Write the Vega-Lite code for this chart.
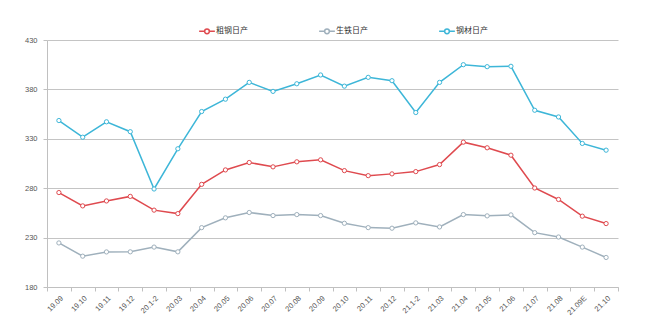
{
  "$schema": "https://vega.github.io/schema/vega-lite/v6.json",
  "autosize": "none",
  "width": 571,
  "height": 247,
  "padding": {"left": 47, "top": 40, "right": 28, "bottom": 43},
  "background": "white",
  "config": {
    "view": {"stroke": null},
    "font": "Noto Sans CJK SC",
    "axis": {"labelFont": "Liberation Sans", "labelColor": "#555555", "labelFontSize": 7.5, "domainColor": "#c0c0c0", "tickColor": "#c0c0c0"}
  },
  "data": {"values": [
    {"m":"19.09","s":"粗钢日产","v":275.6},{"m":"19.10","s":"粗钢日产","v":262.1},{"m":"19.11","s":"粗钢日产","v":267.1},{"m":"19.12","s":"粗钢日产","v":271.7},{"m":"20.1-2","s":"粗钢日产","v":257.8},{"m":"20.03","s":"粗钢日产","v":254.3},{"m":"20.04","s":"粗钢日产","v":283.9},{"m":"20.05","s":"粗钢日产","v":298.5},{"m":"20.06","s":"粗钢日产","v":306},{"m":"20.07","s":"粗钢日产","v":301.6},{"m":"20.08","s":"粗钢日产","v":306.7},{"m":"20.09","s":"粗钢日产","v":308.7},{"m":"20.10","s":"粗钢日产","v":297.8},{"m":"20.11","s":"粗钢日产","v":292.7},{"m":"20.12","s":"粗钢日产","v":294.5},{"m":"21.1-2","s":"粗钢日产","v":296.8},{"m":"21.03","s":"粗钢日产","v":303.9},{"m":"21.04","s":"粗钢日产","v":326.6},{"m":"21.05","s":"粗钢日产","v":320.9},{"m":"21.06","s":"粗钢日产","v":313.4},{"m":"21.07","s":"粗钢日产","v":280.2},{"m":"21.08","s":"粗钢日产","v":268.6},{"m":"21.09E","s":"粗钢日产","v":251.7},{"m":"21.10","s":"粗钢日产","v":244.2},
    {"m":"19.09","s":"生铁日产","v":224.6},{"m":"19.10","s":"生铁日产","v":211.2},{"m":"19.11","s":"生铁日产","v":215.5},{"m":"19.12","s":"生铁日产","v":215.6},{"m":"20.1-2","s":"生铁日产","v":220.4},{"m":"20.03","s":"生铁日产","v":215.6},{"m":"20.04","s":"生铁日产","v":240.1},{"m":"20.05","s":"生铁日产","v":250},{"m":"20.06","s":"生铁日产","v":255.4},{"m":"20.07","s":"生铁日产","v":252.3},{"m":"20.08","s":"生铁日产","v":253.3},{"m":"20.09","s":"生铁日产","v":252.3},{"m":"20.10","s":"生铁日产","v":244.5},{"m":"20.11","s":"生铁日产","v":240.1},{"m":"20.12","s":"生铁日产","v":239.5},{"m":"21.1-2","s":"生铁日产","v":244.9},{"m":"21.03","s":"生铁日产","v":240.8},{"m":"21.04","s":"生铁日产","v":253.3},{"m":"21.05","s":"生铁日产","v":252},{"m":"21.06","s":"生铁日产","v":253},{"m":"21.07","s":"生铁日产","v":235},{"m":"21.08","s":"生铁日产","v":230.6},{"m":"21.09E","s":"生铁日产","v":220.4},{"m":"21.10","s":"生铁日产","v":209.9},
    {"m":"19.09","s":"钢材日产","v":348.5},{"m":"19.10","s":"钢材日产","v":331.6},{"m":"19.11","s":"钢材日产","v":347.2},{"m":"19.12","s":"钢材日产","v":337.2},{"m":"20.1-2","s":"钢材日产","v":279.2},{"m":"20.03","s":"钢材日产","v":319.9},{"m":"20.04","s":"钢材日产","v":357.6},{"m":"20.05","s":"钢材日产","v":370.1},{"m":"20.06","s":"钢材日产","v":387.1},{"m":"20.07","s":"钢材日产","v":378},{"m":"20.08","s":"钢材日产","v":385.7},{"m":"20.09","s":"钢材日产","v":394.6},{"m":"20.10","s":"钢材日产","v":383.3},{"m":"20.11","s":"钢材日产","v":392.2},{"m":"20.12","s":"钢材日产","v":388.8},{"m":"21.1-2","s":"钢材日产","v":356.6},{"m":"21.03","s":"钢材日产","v":387.1},{"m":"21.04","s":"钢材日产","v":405},{"m":"21.05","s":"钢材日产","v":403},{"m":"21.06","s":"钢材日产","v":403.4},{"m":"21.07","s":"钢材日产","v":358.9},{"m":"21.08","s":"钢材日产","v":352.1},{"m":"21.09E","s":"钢材日产","v":325.3},{"m":"21.10","s":"钢材日产","v":318.5}
  ]},
  "mark": {"type": "line", "strokeWidth": 1.5, "point": {"filled": false, "fill": "white", "size": 18, "strokeWidth": 1}},
  "encoding": {
    "x": {"field": "m", "type": "ordinal", "sort": null, "title": null,
      "scale": {"paddingInner": 0, "paddingOuter": 0},
      "axis": {"labelAngle": -45, "tickBand": "extent", "tickSize": 4, "labelPadding": 3, "domainColor": "#c0c0c0"}},
    "y": {"field": "v", "type": "quantitative", "title": null,
      "scale": {"domain": [180, 430], "nice": false, "zero": false},
      "axis": {"values": [180, 230, 280, 330, 380, 430], "gridColor": "#c4c4c4", "gridWidth": 1, "ticks": true, "tickSize": 4, "labelPadding": 6, "domain": true}},
    "color": {"field": "s", "type": "nominal", "title": null,
      "scale": {"domain": ["粗钢日产", "生铁日产", "钢材日产"], "range": ["#df4a4f", "#9fb0bc", "#3db6d8"]},
      "legend": {"orient": "none", "direction": "horizontal", "legendX": 154, "legendY": -15,
        "symbolType": "M-1.5,0H-0.45M0.45,0H1.5M0.45,0A0.45,0.45,0,1,1,-0.45,0A0.45,0.45,0,1,1,0.45,0Z",
        "symbolSize": 110, "symbolStrokeWidth": 1.5, "symbolFillColor": "white",
        "labelFontSize": 8, "labelColor": "#333333", "labelFont": "Noto Sans CJK SC", "columnPadding": 68, "labelOffset": 3}}
  }
}
